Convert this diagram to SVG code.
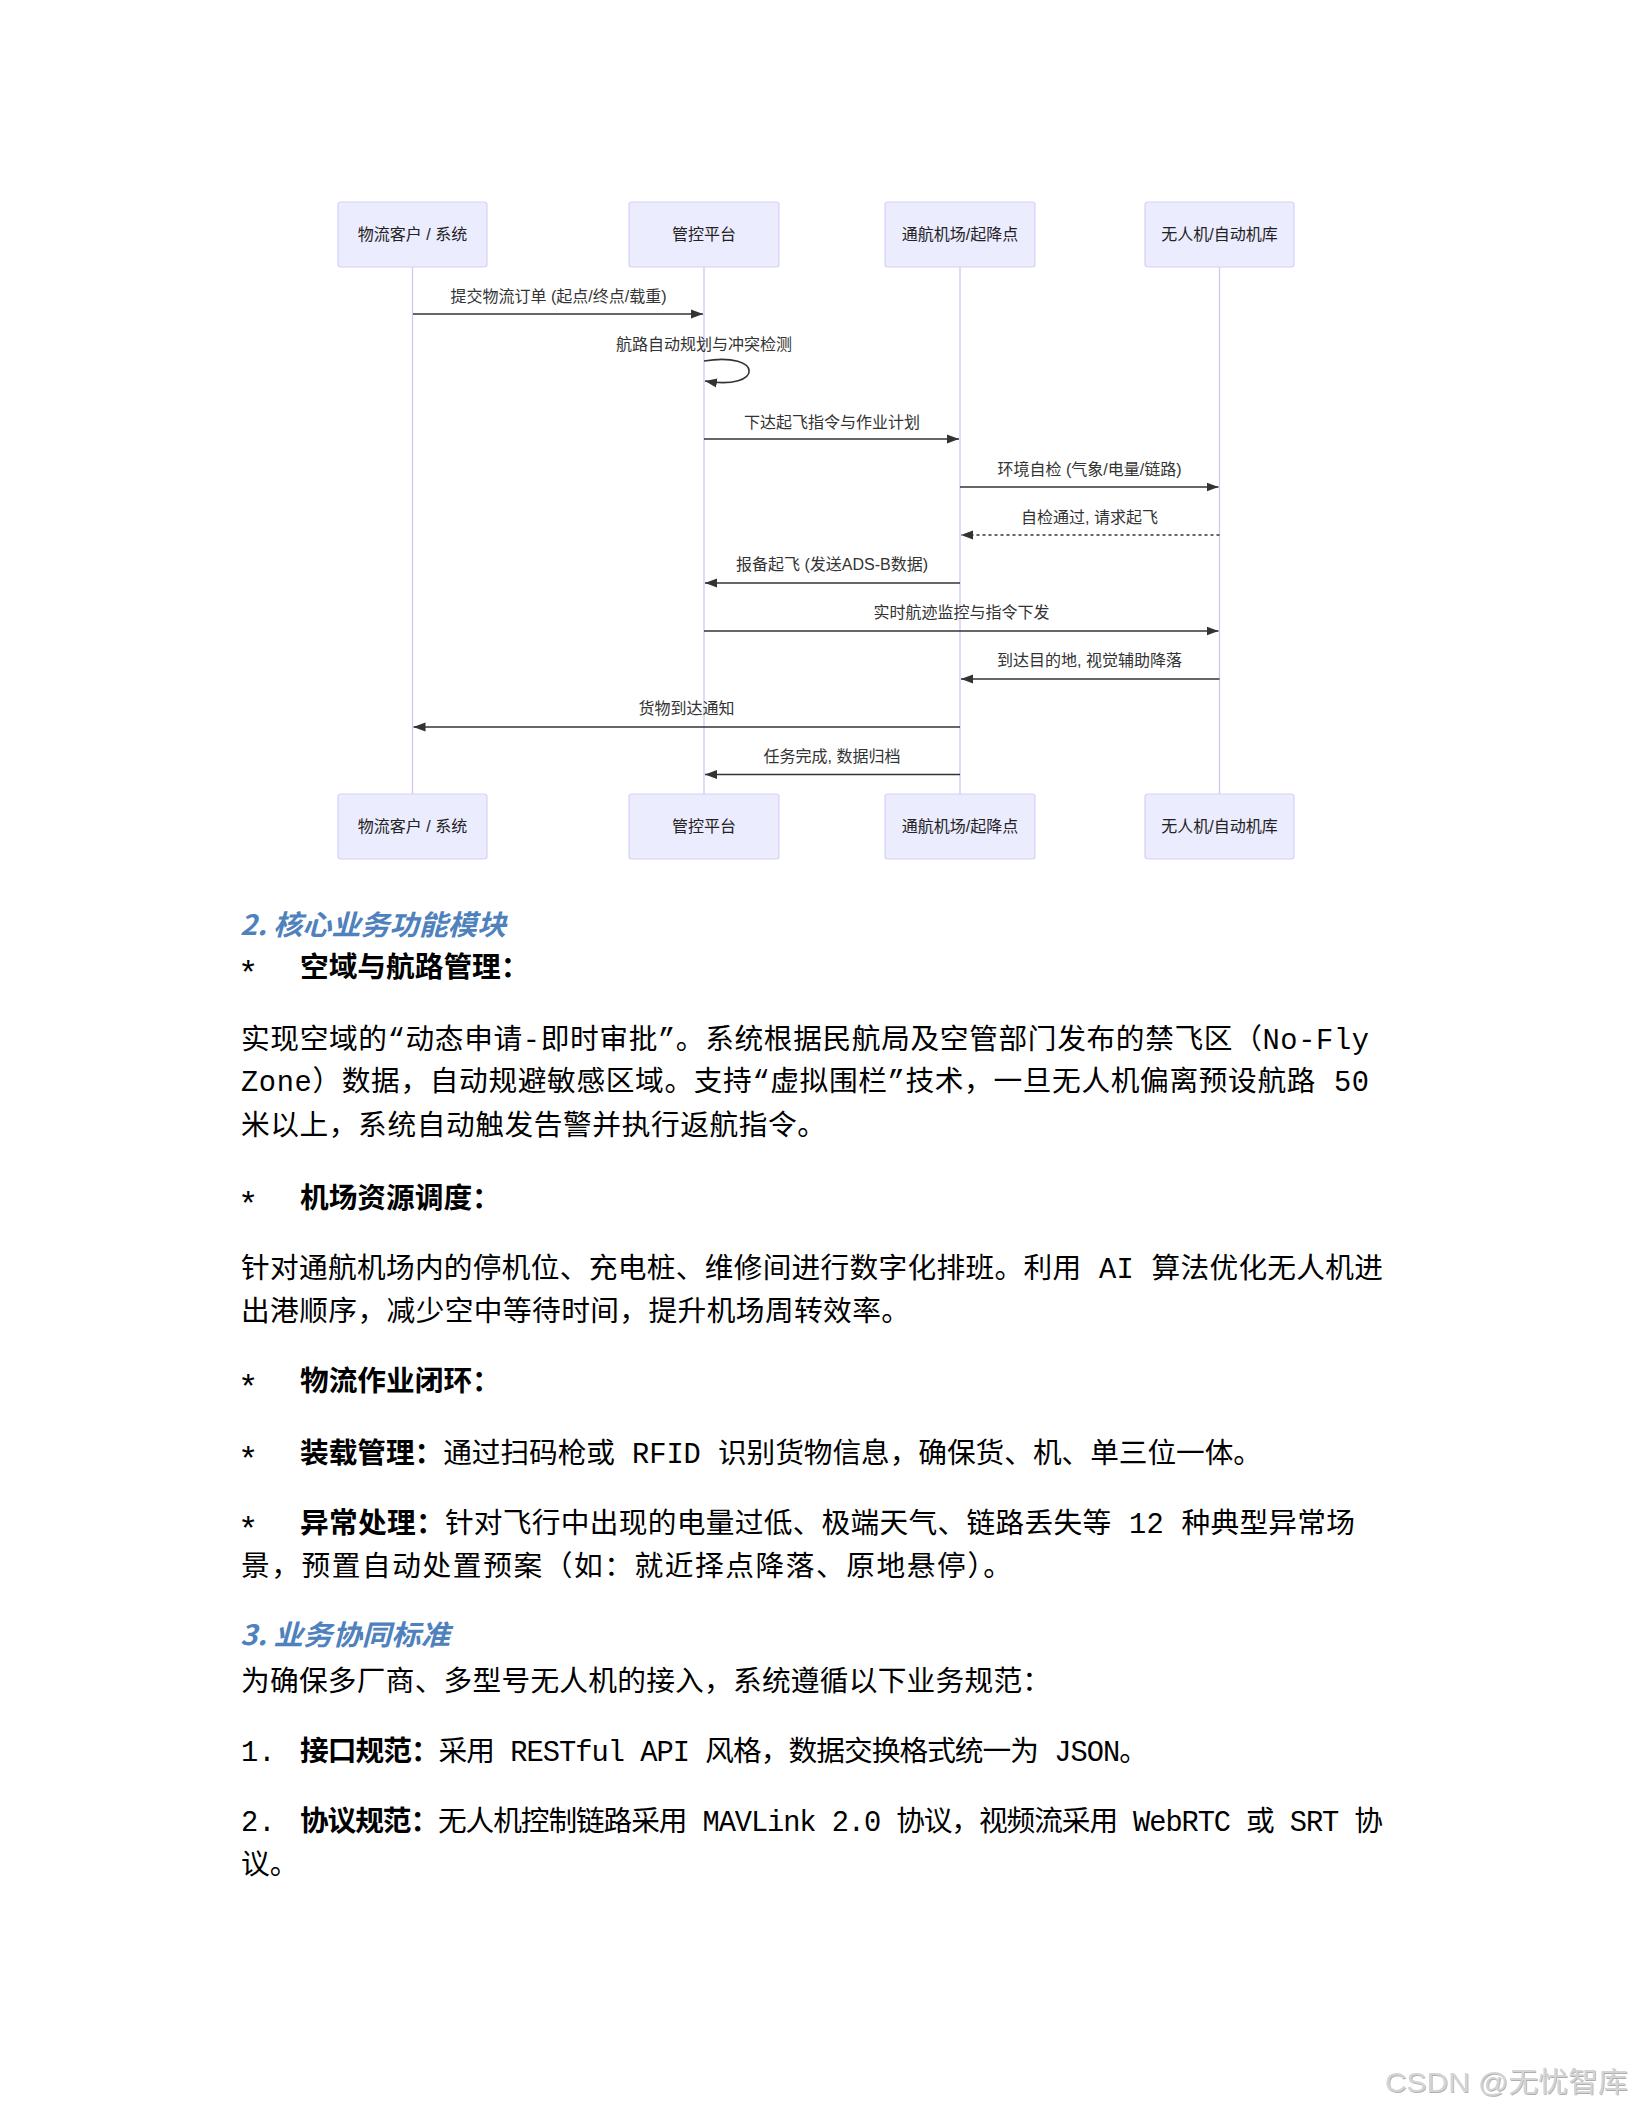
<svg xmlns="http://www.w3.org/2000/svg" width="1632" height="2112" viewBox="0 0 1632 2112">
<style>
.actor{fill:#ECECFF;stroke:#D8D0F4;stroke-width:1.2}
.atext{font-family:"Liberation Sans","Noto Sans CJK SC",sans-serif;font-size:16px;fill:#222;text-anchor:middle}
.life{stroke:#D2C8F2;stroke-width:1.3;fill:none}
.msg{stroke:#333;stroke-width:1.6;fill:none}
.dot{stroke-dasharray:3 3}
.mtext{font-family:"Liberation Sans","Noto Sans CJK SC",sans-serif;font-size:16px;fill:#333;text-anchor:middle}
.h{font-family:"Noto Sans CJK SC","Noto Sans",sans-serif;font-size:28px;font-weight:bold;font-style:italic;fill:#4F81BD}
.b{font-family:"Liberation Mono","Noto Sans CJK SC",monospace;font-size:28.7px;fill:#000}
.bb{font-weight:bold}
.ast{font-family:"Liberation Mono",monospace;font-size:34px;fill:#000}
.wm{font-family:"Liberation Sans","Noto Sans CJK SC",sans-serif;font-size:28px;fill:#D4D4D4}
</style>
<defs>
<marker id="arr" viewBox="0 0 12 10" refX="12" refY="5" markerWidth="12" markerHeight="10" markerUnits="userSpaceOnUse" orient="auto">
<path d="M0,0.5 L12,5 L0,9.5 z" fill="#333"/>
</marker>
<filter id="emb" x="-5%" y="-20%" width="110%" height="140%">
<feDropShadow dx="0.8" dy="1" stdDeviation="0.4" flood-color="#9a9a9a" flood-opacity="0.8"/>
</filter>
</defs>

<g id="lifelines">
<line class="life" x1="412.5" y1="267" x2="412.5" y2="794"/>
<line class="life" x1="704" y1="267" x2="704" y2="794"/>
<line class="life" x1="960" y1="267" x2="960" y2="794"/>
<line class="life" x1="1219.5" y1="267" x2="1219.5" y2="794"/>
</g>

<g id="actor-client-top"><rect class="actor" x="338" y="202" width="149" height="65" rx="3"/><text class="atext" x="412.5" y="240">物流客户 / 系统</text></g>
<g id="actor-platform-top"><rect class="actor" x="629" y="202" width="150" height="65" rx="3"/><text class="atext" x="704" y="240">管控平台</text></g>
<g id="actor-airport-top"><rect class="actor" x="885" y="202" width="150" height="65" rx="3"/><text class="atext" x="960" y="240">通航机场/起降点</text></g>
<g id="actor-drone-top"><rect class="actor" x="1145" y="202" width="149" height="65" rx="3"/><text class="atext" x="1219.5" y="240">无人机/自动机库</text></g>

<g id="actor-client-bottom"><rect class="actor" x="338" y="794" width="149" height="65" rx="3"/><text class="atext" x="412.5" y="832">物流客户 / 系统</text></g>
<g id="actor-platform-bottom"><rect class="actor" x="629" y="794" width="150" height="65" rx="3"/><text class="atext" x="704" y="832">管控平台</text></g>
<g id="actor-airport-bottom"><rect class="actor" x="885" y="794" width="150" height="65" rx="3"/><text class="atext" x="960" y="832">通航机场/起降点</text></g>
<g id="actor-drone-bottom"><rect class="actor" x="1145" y="794" width="149" height="65" rx="3"/><text class="atext" x="1219.5" y="832">无人机/自动机库</text></g>

<g id="connectors">
<line class="msg" x1="413" y1="314" x2="703" y2="314" marker-end="url(#arr)"/>
<text class="mtext" x="558.5" y="302">提交物流订单 (起点/终点/载重)</text>
<path class="msg" d="M704,361 C764,351 764,391 705,381" marker-end="url(#arr)"/>
<text class="mtext" x="704" y="350">航路自动规划与冲突检测</text>
<line class="msg" x1="704" y1="439" x2="959" y2="439" marker-end="url(#arr)"/>
<text class="mtext" x="832" y="427.5">下达起飞指令与作业计划</text>
<line class="msg" x1="960" y1="487" x2="1218.5" y2="487" marker-end="url(#arr)"/>
<text class="mtext" x="1089.5" y="475">环境自检 (气象/电量/链路)</text>
<line class="msg dot" x1="1219.5" y1="535" x2="961" y2="535" marker-end="url(#arr)"/>
<text class="mtext" x="1089.5" y="522.5">自检通过, 请求起飞</text>
<line class="msg" x1="960" y1="583" x2="705" y2="583" marker-end="url(#arr)"/>
<text class="mtext" x="832" y="570">报备起飞 (发送ADS-B数据)</text>
<line class="msg" x1="704" y1="631" x2="1218.5" y2="631" marker-end="url(#arr)"/>
<text class="mtext" x="961.5" y="618">实时航迹监控与指令下发</text>
<line class="msg" x1="1219.5" y1="679" x2="961" y2="679" marker-end="url(#arr)"/>
<text class="mtext" x="1089.5" y="666">到达目的地, 视觉辅助降落</text>
<line class="msg" x1="960" y1="727" x2="413.5" y2="727" marker-end="url(#arr)"/>
<text class="mtext" x="686.5" y="714">货物到达通知</text>
<line class="msg" x1="960" y1="774.5" x2="705" y2="774.5" marker-end="url(#arr)"/>
<text class="mtext" x="832" y="762">任务完成, 数据归档</text>
</g>

<g id="body">
<text class="h" x="240" y="935" textLength="266" lengthAdjust="spacingAndGlyphs">2. 核心业务功能模块</text>
<text class="ast" x="238" y="984">*</text>
<text class="b bb" x="300" y="977">空域与航路管理：</text>
<text class="b" x="241" y="1048.5" textLength="1128" lengthAdjust="spacing">实现空域的“动态申请-即时审批”。系统根据民航局及空管部门发布的禁飞区（No-Fly</text>
<text class="b" x="241" y="1091" textLength="1128" lengthAdjust="spacing">Zone）数据，自动规避敏感区域。支持“虚拟围栏”技术，一旦无人机偏离预设航路 50</text>
<text class="b" x="241" y="1135" textLength="585" lengthAdjust="spacing">米以上，系统自动触发告警并执行返航指令。</text>

<text class="ast" x="238" y="1215">*</text>
<text class="b bb" x="300" y="1208">机场资源调度：</text>
<text class="b" x="241" y="1277.5" textLength="1142" lengthAdjust="spacing">针对通航机场内的停机位、充电桩、维修间进行数字化排班。利用 AI 算法优化无人机进</text>
<text class="b" x="241" y="1321" textLength="669" lengthAdjust="spacing">出港顺序，减少空中等待时间，提升机场周转效率。</text>

<text class="ast" x="238" y="1398">*</text>
<text class="b bb" x="300" y="1391">物流作业闭环：</text>

<text class="ast" x="238" y="1469.5">*</text>
<text class="b" x="300" y="1462.5" textLength="962" lengthAdjust="spacing"><tspan class="bb">装载管理：</tspan>通过扫码枪或 RFID 识别货物信息，确保货、机、单三位一体。</text>

<text class="ast" x="238" y="1539.5">*</text>
<text class="b" x="300" y="1532.5" textLength="1055" lengthAdjust="spacing"><tspan class="bb">异常处理：</tspan>针对飞行中出现的电量过低、极端天气、链路丢失等 12 种典型异常场</text>
<text class="b" x="241" y="1576" textLength="771" lengthAdjust="spacing">景，预置自动处置预案（如：就近择点降落、原地悬停）。</text>

<text class="h" x="240" y="1645" textLength="210" lengthAdjust="spacingAndGlyphs">3. 业务协同标准</text>
<text class="b" x="241" y="1691" textLength="810" lengthAdjust="spacing">为确保多厂商、多型号无人机的接入，系统遵循以下业务规范：</text>

<text class="b" x="241" y="1761">1.</text>
<text class="b" x="300" y="1761" textLength="848" lengthAdjust="spacing"><tspan class="bb">接口规范：</tspan>采用 RESTful API 风格，数据交换格式统一为 JSON。</text>

<text class="b" x="241" y="1831">2.</text>
<text class="b" x="300" y="1831" textLength="1083" lengthAdjust="spacing"><tspan class="bb">协议规范：</tspan>无人机控制链路采用 MAVLink 2.0 协议，视频流采用 WebRTC 或 SRT 协</text>
<text class="b" x="241" y="1874">议。</text>
</g>

<text class="wm" x="1385" y="2092" textLength="243" lengthAdjust="spacingAndGlyphs" filter="url(#emb)">CSDN @无忧智库</text>
</svg>
